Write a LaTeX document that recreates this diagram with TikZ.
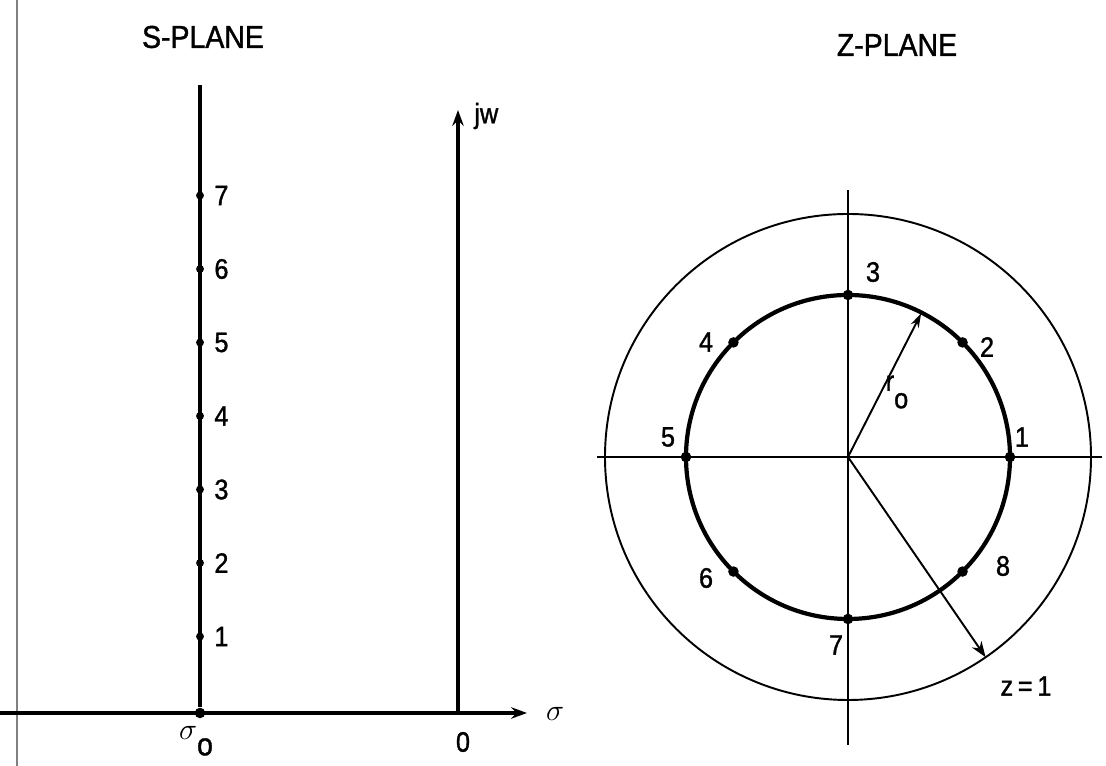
\documentclass[tikz,border=0pt]{standalone}
\usepackage{fontspec}
\setmainfont{Liberation Sans}[FakeStretch=0.9, FakeBold=1.2]
\usetikzlibrary{arrows.meta}
\tikzset{
  titel/.style = {font=\fontsize{18}{20}\selectfont, inner sep=0pt},
  lbl/.style   = {font=\fontsize{16}{18}\selectfont, inner sep=0pt},
  pnt/.style   = {circle, fill=black, inner sep=0pt, minimum size=6pt},
  spt/.style   = {circle, fill=black, inner sep=0pt, minimum size=4.5pt},
  ax/.style    = {line width=2.1pt},
  dun/.style   = {line width=1.1pt},
  pijl/.style  = {-{Stealth[length=9pt, width=6.5pt]}}
}

\begin{document}
\begin{tikzpicture}[x=0.02cm, y=0.02cm]

  \useasboundingbox (0,0) rectangle (1106,766);
  \draw[gray, line width=0.6pt] (17,0) -- (17,766);

  % s-vlak
  \node[titel] (stit) at (203,729) {S-PLANE};
  \coordinate (sl) at (0,53);
  \coordinate (sr) at (527,53);
  \coordinate (stop) at (200,681);
  \node[pnt] (so) at (200,53) {};
  \draw[ax] (so) -- (stop);
  \draw[ax, pijl] (sl) -- (sr);
  \foreach \i in {1,...,7} {
    \node[spt] (s\i) at (200,56+73.5*\i) {};
    \node[lbl, anchor=west] at ([xshift=8pt]s\i) {\i};
  }
  \coordinate (jo) at (458,53);
  \coordinate (jt) at (458,656);
  \draw[ax, pijl] (jo) -- (jt);
  \node[lbl, anchor=west] at (474,650) {jw};
  \node[lbl, font=\fontsize{18}{20}\selectfont] at (555,52) {$\sigma$};
  \node[lbl] at (463,24) {0};
  \node[lbl] at (196,25) {$\sigma$\raisebox{-9pt}{\fontsize{18}{20}\selectfont o}};

  % z-vlak
  \node[titel] (ztit) at (897,721) {Z-PLANE};
  \coordinate (zc) at (848,309);
  \draw[dun] (zc) circle[radius=243];
  \draw[line width=2.4pt] (zc) circle[radius=162];
  \coordinate (hl) at (597,309);
  \coordinate (hr) at (1102,309);
  \coordinate (vb) at (848,21);
  \coordinate (vt) at (848,576);
  \draw[dun] (hl) -- (hr);
  \draw[dun] (vb) -- (vt);
  \foreach \a [count=\i] in {0,45,...,315}
    \node[pnt] (z\i) at ([shift={(zc)}] \a:162) {};
  \node[lbl] at (1022,329) {1};
  \node[lbl] at (987,419) {2};
  \node[lbl] at (873,494) {3};
  \node[lbl] at (706,424) {4};
  \node[lbl] at (668,329) {5};
  \node[lbl] at (706,188) {6};
  \node[lbl] at (836,121) {7};
  \node[lbl] at (1003,200) {8};

  \coordinate (rtip) at ([shift={(zc)}] 63:161);
  \coordinate (ztip) at ([shift={(zc)}] -55.5:243);
  \draw[dun, -{Stealth[length=8pt, width=5pt]}] (zc) -- (rtip);
  \draw[dun, pijl] (zc) -- (ztip);
  \node[lbl] at (897,374) {r\raisebox{-10pt}{o}};
  \node[lbl] at (1026,80) {z\,=\,1};

\end{tikzpicture}
\end{document}
